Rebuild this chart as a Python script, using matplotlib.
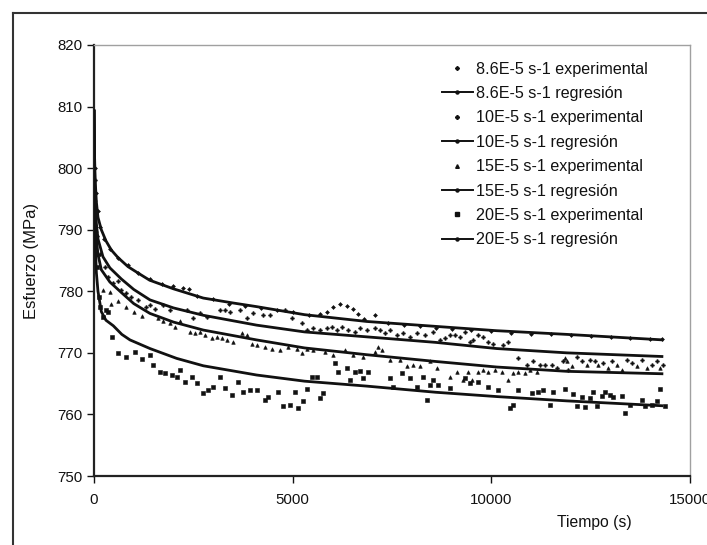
import numpy as np
import matplotlib
matplotlib.use("Agg")
import matplotlib.pyplot as plt
from matplotlib.lines import Line2D

plt.rcParams['font.family'] = ['Liberation Sans', 'DejaVu Sans']

# ---------------- data ----------------
series_labels = ["8.6E-5 s-1", "10E-5 s-1", "15E-5 s-1", "20E-5 s-1"]

# regression curves: time (s), stress (MPa)
reg_A_t = [0, 10, 30, 60, 100, 184, 300, 436, 600, 856, 1100, 1400, 2000, 2750, 3500, 4100, 5300, 6860, 8600, 10130, 11900, 14330]
reg_A_s = [809.5, 803, 798, 794.5, 792, 790.0, 788.2, 786.7, 785.5, 784.0, 783.0, 781.8, 780.4, 778.9, 778.1, 777.5, 776.2, 775.1, 774.3, 773.6, 773.0, 772.1]

reg_B_t = [0, 10, 30, 60, 100, 226, 400, 688, 1000, 1409, 2000, 2752, 4094, 5300, 6862, 8600, 10134, 11900, 14328]
reg_B_s = [809.5, 801, 795, 791, 788.5, 785.6, 783.8, 782.0, 780.3, 778.6, 777.3, 776.1, 774.5, 773.4, 772.6, 771.7, 770.7, 770.0, 769.4]

reg_C_t = [0, 10, 30, 60, 100, 184, 400, 688, 1000, 1409, 2000, 2752, 4094, 5300, 6862, 8600, 10134, 11900, 14328]
reg_C_s = [809.5, 799, 792.5, 788.5, 786, 783.5, 781.5, 779.8, 778, 776.4, 775.0, 773.7, 772.1, 770.8, 769.7, 768.6, 767.7, 767.0, 766.6]

reg_D_t = [0, 10, 30, 60, 100, 184, 300, 486, 700, 906, 1409, 2081, 2752, 4094, 5300, 6862, 8600, 10134, 11900, 14328]
reg_D_s = [809.5, 796, 788, 783, 780, 776.7, 775.3, 774.4, 773.0, 772.1, 770.7, 769.1, 767.9, 766.4, 765.4, 764.6, 763.6, 762.9, 762.2, 761.4]

# experimental points: (time s, stress MPa)
exp_A = [(20, 800), (50, 796), (90, 793), (150, 790.5), (250, 788.5), (400, 786.8), (600, 785.4),
         (850, 784.2), (1100, 783.0), (1400, 782.0), (1700, 781.2), (2000, 780.8), (2250, 780.6),
         (2400, 780.4), (2600, 779.3), (3000, 778.8), (3400, 778.0), (3800, 777.6), (4200, 777.3),
         (4600, 776.9), (5000, 776.6), (5400, 776.2), (5700, 776.3), (5856, 776.6), (6023, 777.5),
         (6191, 778.0), (6359, 777.6), (6527, 777.1), (6652, 776.3), (6800, 775.5), (7072, 776.2),
         (7400, 774.8), (7800, 774.6), (8200, 774.4), (8600, 774.1), (9000, 773.9), (9500, 773.7),
         (10000, 773.5), (10500, 773.3), (11000, 773.1), (11500, 773.0), (12000, 772.9),
         (12500, 772.7), (13000, 772.5), (13500, 772.4), (14000, 772.3), (14300, 772.2)]

exp_B = [(15, 798), (40, 793), (80, 789), (150, 786), (267, 784.0), (352, 782.4), (478, 781.3),
         (604, 781.6), (688, 780.2), (814, 779.7), (939, 779.1), (1107, 778.6), (1317, 777.5),
         (1409, 777.8), (1535, 777.2), (1745, 777.8), (1913, 777.0), (2332, 777.0), (2500, 775.6),
         (2668, 776.4), (2836, 775.9), (3171, 777.0), (3297, 777.0), (3423, 776.7), (3674, 777.0),
         (3842, 775.6), (4010, 776.4), (4262, 776.1), (4430, 776.1), (4807, 777.0), (4975, 775.6),
         (5226, 774.8), (5352, 773.7), (5520, 774.0), (5688, 773.7), (5856, 774.0), (5982, 774.2),
         (6107, 773.7), (6233, 774.2), (6401, 773.7), (6568, 773.4), (6694, 774.0), (6862, 773.7),
         (7072, 774.0), (7198, 773.7), (7324, 773.2), (7450, 773.7), (7617, 772.9), (7785, 773.2),
         (7953, 772.6), (8121, 773.2), (8330, 772.9), (8540, 773.4), (8708, 772.1), (8834, 772.4),
         (8960, 772.9), (9085, 772.9), (9211, 772.6), (9337, 773.4), (9463, 771.8), (9547, 772.1),
         (9672, 772.9), (9798, 772.6), (9924, 771.8), (10050, 771.5), (10302, 771.3), (10428, 771.8),
         (10680, 769.1), (10889, 768.0), (11057, 768.6), (11225, 768.0), (11351, 768.0),
         (11518, 768.0), (11644, 767.5), (11812, 768.6), (11938, 767.2), (12148, 769.4),
         (12274, 768.6), (12484, 768.8), (12609, 768.6), (12819, 768.3), (13029, 768.6),
         (13406, 768.8), (13532, 768.3), (13784, 768.8), (14035, 768.0), (14161, 768.6), (14329, 768.0)]

exp_C = [(20, 795), (50, 790), (100, 786), (226, 780.2), (394, 779.9), (436, 778.0), (600, 778.5),
         (800, 777.5), (1000, 776.6), (1200, 776.0), (1611, 775.6), (1745, 775.1), (1913, 774.8),
         (2039, 774.2), (2164, 775.1), (2416, 773.4), (2542, 773.2), (2668, 773.4), (2794, 772.9),
         (2962, 772.4), (3087, 772.6), (3213, 772.4), (3339, 772.1), (3507, 771.8), (3717, 773.2),
         (3842, 772.9), (3968, 771.5), (4094, 771.3), (4304, 771.0), (4472, 770.7), (4682, 770.5),
         (4891, 771.0), (5101, 770.7), (5227, 769.9), (5352, 770.7), (5520, 770.5), (5814, 770.2),
         (6023, 769.7), (6317, 770.5), (6526, 769.7), (6778, 769.4), (7072, 770.2), (7156, 771.0),
         (7240, 770.5), (7450, 768.8), (7701, 768.8), (7869, 767.8), (8037, 768.0), (8205, 767.8),
         (8456, 768.6), (8624, 767.6), (8960, 766.1), (9127, 766.9), (9295, 765.6), (9421, 766.9),
         (9505, 765.6), (9672, 766.9), (9798, 767.2), (9924, 766.9), (10092, 767.2), (10260, 766.9),
         (10428, 765.6), (10554, 766.7), (10680, 766.9), (10847, 766.7), (10973, 767.2),
         (11141, 766.9), (11854, 769.1), (11896, 768.6), (12022, 767.8), (12400, 768.0),
         (12693, 768.0), (12945, 767.5), (13155, 768.0), (13280, 767.2), (13658, 767.8),
         (13909, 767.5), (14245, 767.6)]

exp_D = [(30, 790), (70, 784), (120, 779), (150, 777.5), (226, 775.9), (300, 777.0), (352, 776.7),
         (450, 772.5), (600, 770.0), (800, 769.3), (1030, 770.1), (1200, 769.0), (1410, 769.6),
         (1493, 768.0), (1661, 766.9), (1787, 766.7), (1955, 766.4), (2081, 766.0), (2164, 767.2),
         (2290, 765.2), (2458, 766.1), (2584, 765.1), (2752, 763.4), (2878, 764.0), (3003, 764.5),
         (3171, 766.1), (3297, 764.3), (3465, 763.2), (3633, 765.3), (3758, 763.7), (3926, 764.0),
         (4094, 764.0), (4304, 762.3), (4388, 762.9), (4639, 763.7), (4765, 761.3), (4933, 761.6),
         (5059, 763.7), (5143, 761.0), (5268, 762.1), (5352, 764.2), (5478, 766.1), (5604, 766.1),
         (5688, 762.6), (5772, 763.4), (6065, 768.4), (6149, 766.9), (6359, 767.5), (6443, 765.6),
         (6568, 766.9), (6694, 767.1), (6778, 765.9), (6904, 766.9), (7450, 765.9), (7534, 764.5),
         (7743, 766.7), (7953, 765.9), (8121, 764.5), (8289, 766.1), (8373, 762.3), (8456, 764.8),
         (8540, 765.6), (8666, 764.8), (8960, 764.3), (9337, 765.9), (9463, 765.1), (9672, 765.3),
         (9924, 764.5), (10176, 764.0), (10470, 761.0), (10554, 761.5), (10680, 764.0),
         (11015, 763.4), (11183, 763.7), (11309, 764.0), (11477, 761.5), (11560, 763.7),
         (11854, 764.1), (12064, 763.3), (12148, 761.3), (12274, 762.9), (12358, 761.2),
         (12483, 762.6), (12567, 763.7), (12651, 761.3), (12777, 763.0), (12861, 763.7),
         (12987, 763.1), (13071, 762.8), (13280, 763.0), (13364, 760.2), (13490, 761.5),
         (13784, 762.3), (13867, 761.3), (14036, 761.5), (14161, 762.1), (14245, 764.1), (14371, 761.4)]

x_ticks = [0, 5000, 10000, 15000]
y_ticks = [750, 760, 770, 780, 790, 800, 810, 820]

# ---------------- drawing ----------------
ink = '#111111'
fig = plt.figure(figsize=(7.07, 5.45), dpi=100)
ax = fig.add_axes([94 / 707, 1 - 476 / 545, 596 / 707, 431 / 545])

exp_sets = [exp_A, exp_B, exp_C, exp_D]
exp_markers = ['D', 'P', '^', 's']
exp_sizes = [2.0, 2.6, 2.6, 2.2]
for data, m, ms in zip(exp_sets, exp_markers, exp_sizes):
    arr = np.array(data)
    ax.plot(arr[:, 0], arr[:, 1], linestyle='none', marker=m, markersize=ms,
            color=ink, markeredgewidth=0.4, zorder=3)

reg_sets = [(reg_A_t, reg_A_s), (reg_B_t, reg_B_s), (reg_C_t, reg_C_s), (reg_D_t, reg_D_s)]
for t, s in reg_sets:
    ax.plot(t, s, color=ink, linewidth=2.0, solid_capstyle='butt', zorder=4)

ax.set_xlim(0, 15000)
ax.set_ylim(750, 820)
ax.set_xticks(x_ticks)
ax.set_yticks(y_ticks)
ax.tick_params(direction='out', length=5, width=1.0, colors=ink, labelsize=10.8, pad=3)
ax.tick_params(axis='x', pad=7)

for side in ['left', 'bottom']:
    ax.spines[side].set_color('#222222')
    ax.spines[side].set_linewidth(1.6)
for side in ['top', 'right']:
    ax.spines[side].set_color('#a0a0a0')
    ax.spines[side].set_linewidth(1.0)

ax.set_ylabel('Esfuerzo (MPa)', fontsize=12, color=ink)
ax.yaxis.set_label_coords(-0.092, 0.5)
ax.set_xlabel('Tiempo (s)', fontsize=11.3, color=ink)
ax.xaxis.set_label_coords(0.84, -0.0904)

# legend proxies
handles = []
labels = []
for lab, m, ms in zip(series_labels, exp_markers, exp_sizes):
    handles.append(Line2D([], [], linestyle='none', marker=m, markersize=ms, color=ink))
    labels.append(lab + ' experimental')
    handles.append(Line2D([], [], linestyle='-', linewidth=1.4, marker='o', markersize=2.2, color=ink))
    labels.append(lab + ' regresión')
leg = ax.legend(handles, labels, loc='upper left', bbox_to_anchor=(0.573, 0.976),
                frameon=False, fontsize=11.6, handlelength=1.9, handletextpad=0.2,
                labelspacing=0.58, borderaxespad=0)
for txt in leg.get_texts():
    txt.set_color(ink)

# outer chart frame (cropped at right and bottom)
fig.add_artist(Line2D([13 / 707, 1.0], [1 - 13 / 545, 1 - 13 / 545], transform=fig.transFigure,
                      color='#333333', linewidth=1.5))
fig.add_artist(Line2D([13 / 707, 13 / 707], [0.0, 1 - 13 / 545], transform=fig.transFigure,
                      color='#333333', linewidth=1.5))

fig.savefig('out.png', dpi=100)
